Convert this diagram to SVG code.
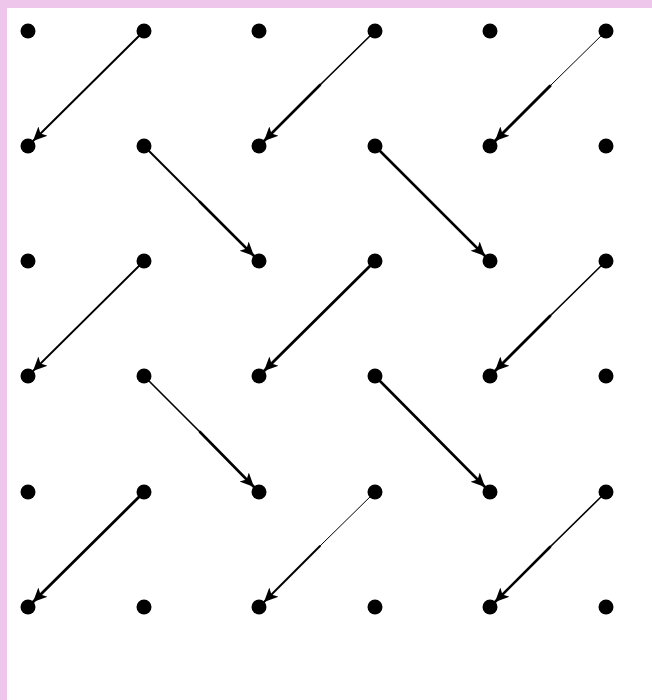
<svg xmlns="http://www.w3.org/2000/svg" width="652" height="700" viewBox="0 0 652 700">
<defs>
<style>
.dot{fill:#000}
.ln{stroke:#000;fill:none;stroke-linecap:round}
</style>
<marker id="ah" markerUnits="userSpaceOnUse" markerWidth="18" markerHeight="16" refX="14" refY="8" orient="auto">
<path d="M0,1.5 L14,8 L0,14.5 L3.5,8 Z" fill="#000"/>
</marker>
</defs>
<rect x="0" y="0" width="652" height="700" fill="#fff"/>
<rect x="0" y="0" width="652" height="8" fill="#efc6eb"/>
<rect x="0" y="0" width="7" height="700" fill="#efc6eb"/>
<g id="dots">
<g id="r0"><circle class="dot" cx="28" cy="31" r="7.5"/><circle class="dot" cx="144" cy="31" r="7.5"/><circle class="dot" cx="259" cy="31" r="7.5"/><circle class="dot" cx="375" cy="31" r="7.5"/><circle class="dot" cx="490" cy="31" r="7.5"/><circle class="dot" cx="606" cy="31" r="7.5"/></g>
<g id="r1"><circle class="dot" cx="28" cy="146" r="7.5"/><circle class="dot" cx="144" cy="146" r="7.5"/><circle class="dot" cx="259" cy="146" r="7.5"/><circle class="dot" cx="375" cy="146" r="7.5"/><circle class="dot" cx="490" cy="146" r="7.5"/><circle class="dot" cx="606" cy="146" r="7.5"/></g>
<g id="r2"><circle class="dot" cx="28" cy="261" r="7.5"/><circle class="dot" cx="144" cy="261" r="7.5"/><circle class="dot" cx="259" cy="261" r="7.5"/><circle class="dot" cx="375" cy="261" r="7.5"/><circle class="dot" cx="490" cy="261" r="7.5"/><circle class="dot" cx="606" cy="261" r="7.5"/></g>
<g id="r3"><circle class="dot" cx="28" cy="376" r="7.5"/><circle class="dot" cx="144" cy="376" r="7.5"/><circle class="dot" cx="259" cy="376" r="7.5"/><circle class="dot" cx="375" cy="376" r="7.5"/><circle class="dot" cx="490" cy="376" r="7.5"/><circle class="dot" cx="606" cy="376" r="7.5"/></g>
<g id="r4"><circle class="dot" cx="28" cy="492" r="7.5"/><circle class="dot" cx="144" cy="492" r="7.5"/><circle class="dot" cx="259" cy="492" r="7.5"/><circle class="dot" cx="375" cy="492" r="7.5"/><circle class="dot" cx="490" cy="492" r="7.5"/><circle class="dot" cx="606" cy="492" r="7.5"/></g>
<g id="r5"><circle class="dot" cx="28" cy="607" r="7.5"/><circle class="dot" cx="144" cy="607" r="7.5"/><circle class="dot" cx="259" cy="607" r="7.5"/><circle class="dot" cx="375" cy="607" r="7.5"/><circle class="dot" cx="490" cy="607" r="7.5"/><circle class="dot" cx="606" cy="607" r="7.5"/></g>
</g>
<g id="connectors">
<line class="ln" x1="144" y1="31" x2="33" y2="141" stroke-width="2" marker-end="url(#ah)"/>
<line class="ln" x1="375" y1="31" x2="320" y2="85" stroke-width="1.6"/>
<line class="ln" x1="320" y1="85" x2="264" y2="141" stroke-width="2.6" marker-end="url(#ah)"/>
<line class="ln" x1="606" y1="31" x2="550" y2="86" stroke-width="1"/>
<line class="ln" x1="550" y1="86" x2="495" y2="141" stroke-width="3" marker-end="url(#ah)"/>
<line class="ln" x1="144" y1="146" x2="200" y2="202" stroke-width="2"/>
<line class="ln" x1="200" y1="202" x2="254" y2="256" stroke-width="2.6" marker-end="url(#ah)"/>
<line class="ln" x1="375" y1="146" x2="485" y2="256" stroke-width="2.6" marker-end="url(#ah)"/>
<line class="ln" x1="144" y1="261" x2="33" y2="371" stroke-width="1.8" marker-end="url(#ah)"/>
<line class="ln" x1="375" y1="261" x2="264" y2="371" stroke-width="2.8" marker-end="url(#ah)"/>
<line class="ln" x1="606" y1="261" x2="550" y2="316" stroke-width="1.6"/>
<line class="ln" x1="550" y1="316" x2="495" y2="371" stroke-width="2.8" marker-end="url(#ah)"/>
<line class="ln" x1="144" y1="376" x2="200" y2="432" stroke-width="1.6"/>
<line class="ln" x1="200" y1="432" x2="254" y2="487" stroke-width="2.6" marker-end="url(#ah)"/>
<line class="ln" x1="375" y1="376" x2="485" y2="487" stroke-width="2.6" marker-end="url(#ah)"/>
<line class="ln" x1="144" y1="492" x2="33" y2="602" stroke-width="2.8" marker-end="url(#ah)"/>
<line class="ln" x1="375" y1="492" x2="320" y2="546" stroke-width="1"/>
<line class="ln" x1="320" y1="546" x2="264" y2="602" stroke-width="2" marker-end="url(#ah)"/>
<line class="ln" x1="606" y1="492" x2="550" y2="547" stroke-width="1.6"/>
<line class="ln" x1="550" y1="547" x2="495" y2="602" stroke-width="2.6" marker-end="url(#ah)"/>
</g>
</svg>
